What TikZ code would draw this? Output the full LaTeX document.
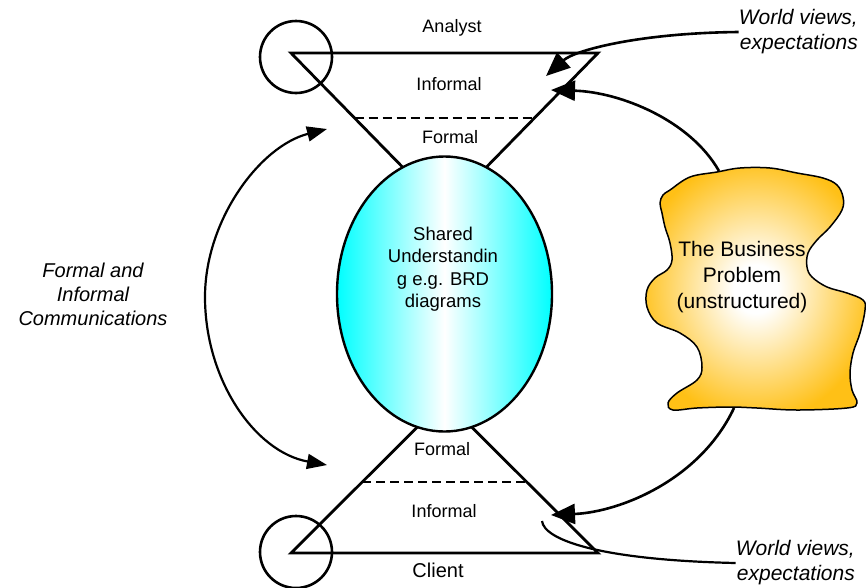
\documentclass[tikz,border=0pt]{standalone}
\usepackage{fontspec}
\setmainfont{Liberation Sans}
\usetikzlibrary{calc,shapes.geometric,arrows.meta}
\definecolor{blobgold}{RGB}{255,192,22}
\pgfdeclareradialshading{blobglow}{\pgfpoint{0bp}{0bp}}{color(0bp)=(white); color(5bp)=(white); color(27bp)=(blobgold); color(50bp)=(blobgold)}
\tikzset{
	>={Triangle[length=24pt,width=20pt]},
	funnel/.style={line width=2.8pt},
	divider/.style={line width=2.2pt, dash pattern=on 9pt off 5pt},
	head/.style={circle, draw, line width=2.6pt, minimum size=72pt, inner sep=0pt},
	lbl/.style={inner sep=0pt, anchor=base, font=\fontsize{18}{22}\selectfont},
	note/.style={inner sep=0pt, align=right, font=\fontsize{21}{25}\selectfont\itshape},
	flow/.style={line width=2.6pt, ->},
	comm/.style={line width=2.2pt, <->, >={Triangle[length=20pt,width=15pt]}}
}
\begin{document}
\begin{tikzpicture}[x=1pt, y=-1pt]
	\useasboundingbox (0,0) rectangle (866,587);

	\coordinate (aL) at (291,53);
	\coordinate (aR) at (598,53);
	\coordinate (aTip) at (444.5,210);
	\coordinate (cL) at (291,553);
	\coordinate (cR) at (598,553);
	\coordinate (cTip) at (444.5,400);

	% the two funnels
	\draw[funnel] (aL) -- (aR) -- (aTip) -- cycle;
	\draw[funnel] (cL) -- (cR) -- (cTip) -- cycle;
	\draw[divider] ($(aL)!0.414!(aTip)$) -- ($(aR)!0.414!(aTip)$);
	\draw[divider] ($(cL)!0.464!(cTip)$) -- ($(cR)!0.464!(cTip)$);

	\node[head] (analysthead) at (296,57) {};
	\node[head] (clienthead) at (296,552) {};

	\node[ellipse, draw, line width=2.4pt, minimum width=215pt, minimum height=275pt, inner sep=0pt,
		left color=cyan, right color=cyan, middle color=white] (shared) at (444.5,294) {};
	\node[align=center, inner sep=0pt, font=\fontsize{18.5}{22.5}\selectfont] (sharedtxt) at (443,269) {Shared\\Understandin\\g e.g. BRD\\diagrams};

	\node[lbl] (analyst) at (452,32) {Analyst};
	\node[lbl] (informalA) at (449,90) {Informal};
	\node[lbl] (formalA) at (450,143) {Formal};
	\node[lbl] (formalC) at (442,455) {Formal};
	\node[lbl] (informalC) at (444,517) {Informal};
	\node[lbl, font=\fontsize{20}{24}\selectfont] (client) at (438,577) {Client};

	\node[note, anchor=east] (viewsA) at (858,32) {World views,\\expectations};
	\node[note, anchor=east] (viewsC) at (855,563) {World views,\\expectations};
	\node[note, align=center, font=\fontsize{20}{24}\selectfont\itshape] (comms) at (93,294) {Formal and\\Informal\\Communications};

	% the business problem
	\path[draw, line width=1.5pt, shade, shading=blobglow] plot[smooth cycle, tension=0.6] coordinates {
		(670,190) (690,177) (717,172) (740,168) (770,168) (797,173) (823,178) (837,185) (843,197)
		(842,210) (830,227) (817,240) (808,253) (807,267) (812,277) (827,287) (847,293) (863,300)
		(865,310) (860,333) (853,353) (850,373) (852,390) (857,403) (847,408) (797,410) (757,408)
		(730,407) (697,408) (673,410) (668,403) (677,393) (697,380) (702,367) (697,347) (680,333)
		(657,323) (647,307) (647,290) (655,278) (667,270) (672,260) (670,243) (665,227) (662,213)
		(660,203) (663,195)};
	\node[align=center, inner sep=0pt, font=\fontsize{21}{26}\selectfont] (problem) at (742,277.5) {The Business\\Problem\\(unstructured)};

	\coordinate (blobtop) at (719,171);
	\coordinate (blobbottom) at (734,408);
	\coordinate (viewsAend) at (546,76);
	\coordinate (problemA) at (551,90);
	\coordinate (problemC) at (551,515);
	\coordinate (viewsChook) at (542,521);
	\coordinate (commA) at (327,129);
	\coordinate (commmid) at (205,297);
	\coordinate (commC) at (327,465);

	\draw[flow] (viewsA.west) .. controls (640,33) and (575,50) .. (viewsAend);
	\draw[flow] (blobtop) .. controls (690,120) and (620,92) .. (problemA);
	\draw[flow] (blobbottom) .. controls (700,480) and (620,512) .. (problemC);
	\draw[line width=2.2pt] (viewsChook) .. controls (544,540) and (600,560) .. (viewsC.west);
	\draw[comm] (commA) .. controls (260,146) and (205,220) .. (commmid) .. controls (205,380) and (255,452) .. (commC);
\end{tikzpicture}
\end{document}
